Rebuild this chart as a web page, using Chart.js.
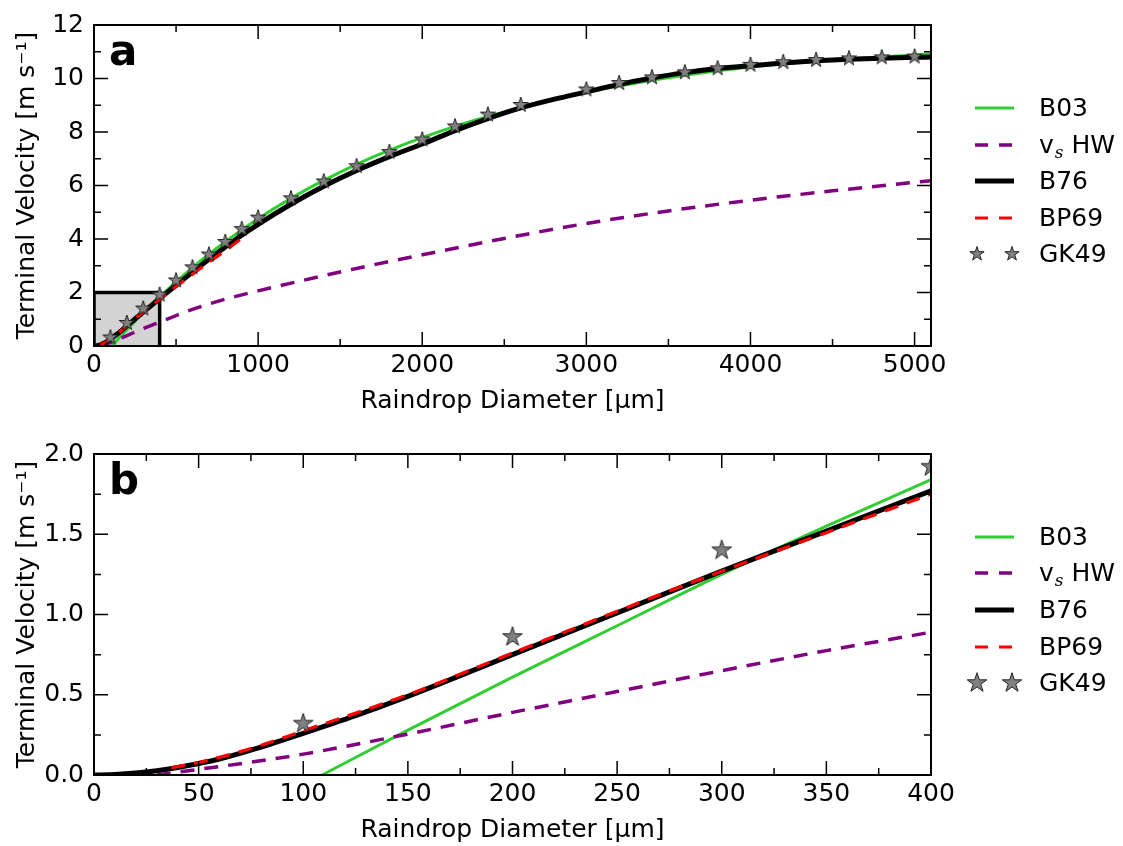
<!DOCTYPE html>
<html>
<head>
<meta charset="utf-8">
<title>Raindrop terminal velocity</title>
<script src="https://cdn.jsdelivr.net/npm/chart.js@4.4.1/dist/chart.umd.min.js"></script>
<style>
  html, body { margin: 0; padding: 0; background: #fff; }
  body { position: relative; width: 1123px; height: 846px; overflow: hidden; font-family: 'DejaVu Sans', sans-serif; }
  canvas.panel { position: absolute; left: 0; }
  #chartA { top: 0; }
  #chartB { top: 429px; }
  .leg-row { position: absolute; left: 963px; width: 160px; height: 28px; }
  .leg-row canvas { position: absolute; left: 0; top: 0; }
  .leg-text { position: absolute; left: 76px; top: -1px; font-size: 25px; line-height: 29px; white-space: nowrap; color: #000; }
  .leg-sub { font-style: italic; font-family: 'DejaVu Serif', serif; font-size: 17px; position: relative; top: 5px; margin-left: 1px; }
</style>
</head>
<body>
<canvas id="chartA" class="panel" width="1123" height="423"></canvas>
<canvas id="chartB" class="panel" width="1123" height="423"></canvas>
<div id="legends"></div>
<script>
// ---- data (diameter in µm, velocity in m/s) ----

// B03
const b03D = [109, 150, 200, 250, 300, 350, 400, 500, 600, 700, 800, 900, 1000, 1200, 1400, 1600, 1800, 2000, 2200, 2400, 2600, 2800, 3000, 3300, 3600, 4000, 4500, 5000, 5100];
const b03V = [0, 0.28, 0.61, 0.93, 1.25, 1.55, 1.84, 2.4, 2.93, 3.43, 3.9, 4.34, 4.76, 5.52, 6.19, 6.79, 7.32, 7.79, 8.21, 8.58, 8.91, 9.21, 9.48, 9.83, 10.12, 10.43, 10.69, 10.88, 10.92];

// v_s HW
const hwD = [30, 50, 75, 100, 150, 200, 250, 300, 350, 400, 500, 600, 700, 800, 900, 1000, 1200, 1400, 1600, 1800, 2000, 2500, 3000, 3500, 4000, 4500, 5000, 5100];
const hwV = [0, 0.035, 0.08, 0.13, 0.255, 0.39, 0.52, 0.65, 0.775, 0.89, 1.14, 1.37, 1.57, 1.75, 1.91, 2.06, 2.35, 2.63, 2.9, 3.16, 3.41, 4.02, 4.58, 5.05, 5.45, 5.8, 6.12, 6.18];

// B76
const b76D = [0, 10, 20, 30, 40, 50, 60, 75, 100, 125, 150, 200, 250, 300, 350, 400, 500, 600, 700, 800, 900, 1000, 1200, 1400, 1600, 1800, 2000, 2200, 2400, 2600, 2800, 3000, 3200, 3400, 3600, 3800, 4000, 4200, 4400, 4600, 4800, 5000, 5100];
const b76V = [0, 0.003, 0.012, 0.027, 0.047, 0.072, 0.1, 0.155, 0.26, 0.37, 0.49, 0.75, 1.01, 1.27, 1.52, 1.77, 2.27, 2.76, 3.24, 3.7, 4.14, 4.55, 5.3, 5.97, 6.56, 7.08, 7.55, 8.05, 8.5, 8.9, 9.22, 9.5, 9.78, 10.02, 10.22, 10.37, 10.48, 10.58, 10.66, 10.72, 10.76, 10.79, 10.8];

// BP69
const bp69D = [37, 50, 75, 100, 150, 200, 250, 300, 350, 400, 500, 600, 700, 800, 900, 932];
const bp69V = [0.045, 0.078, 0.165, 0.275, 0.5, 0.76, 1.02, 1.27, 1.51, 1.75, 2.22, 2.68, 3.13, 3.57, 4.02, 4.15];

// GK49 measurements
const gk49D = [100, 200, 300, 400, 500, 600, 700, 800, 900, 1000, 1200, 1400, 1600, 1800, 2000, 2200, 2400, 2600, 3000, 3200, 3400, 3600, 3800, 4000, 4200, 4400, 4600, 4800, 5000];
const gk49V = [0.32, 0.86, 1.4, 1.92, 2.45, 2.94, 3.42, 3.89, 4.37, 4.8, 5.52, 6.15, 6.72, 7.25, 7.72, 8.21, 8.65, 9.01, 9.59, 9.83, 10.04, 10.23, 10.38, 10.51, 10.61, 10.69, 10.75, 10.79, 10.82];

// zoom box shown in panel a (= range of panel b)
const boxD = [0, 0, 400, 400];
const boxV = [0, 2, 2, 0];

// ticks
const xTicksA = [0, 1000, 2000, 3000, 4000, 5000];
const xMinorA = [500, 1500, 2500, 3500, 4500];
const yTicksA = [0, 2, 4, 6, 8, 10, 12];
const yMinorA = [1, 3, 5, 7, 9, 11];
const xTicksB = [0, 50, 100, 150, 200, 250, 300, 350, 400];
const xMinorB = [25, 75, 125, 175, 225, 275, 325, 375];
const yTicksB = [0, 0.5, 1, 1.5, 2];
const yMinorB = [0.25, 0.75, 1.25, 1.75];

const legendLabels = ['B03', 'v<span class="leg-sub">s</span> HW', 'B76', 'BP69', 'GK49'];

// ---- styling ----
const FONT = "'DejaVu Sans', sans-serif";
const FS = 25;
const GREEN = '#32cd32';
const PURPLE = '#800080';
const RED = '#ff0000';
const BLACK = '#000000';
const STAR_FILL = '#808080';

Chart.defaults.font.family = FONT;
Chart.defaults.color = '#000';

function pts(xs, ys) {
    return xs.map((x, i) => ({ x: x, y: ys[i] }));
}

function drawStar(g, cx, cy, R) {
    g.beginPath();
    for (let i = 0; i < 10; i++) {
        const r = i % 2 ? R * 0.382 : R;
        const ang = -Math.PI / 2 + i * Math.PI / 5;
        g.lineTo(cx + r * Math.cos(ang), cy + r * Math.sin(ang));
    }
    g.closePath();
    g.fillStyle = STAR_FILL;
    g.fill();
    g.lineWidth = 1;
    g.strokeStyle = '#222';
    g.stroke();
}

function starImage(R) {
    const s = 2 * Math.ceil(R + 2);
    const c = document.createElement('canvas');
    c.width = s;
    c.height = s;
    drawStar(c.getContext('2d'), s / 2, s / 2, R);
    return c;
}

// series styles, in legend order
const SERIES = [
    { color: GREEN, width: 3, dash: [] },
    { color: PURPLE, width: 3.5, dash: [14, 10] },
    { color: BLACK, width: 5, dash: [] },
    { color: RED, width: 3.2, dash: [14, 9] },
    { star: true }
];

// inward ticks on all four sides, frame and panel letter
const innerTicks = {
    id: 'innerTicks',
    afterDraw(chart, args, o) {
        const { ctx, chartArea: a } = chart;
        const sx = chart.scales.x, sy = chart.scales.y;
        ctx.save();
        ctx.strokeStyle = '#000';
        ctx.lineWidth = 1.5;
        ctx.beginPath();
        const vTick = (v, len) => {
            const p = sx.getPixelForValue(v);
            ctx.moveTo(p, a.bottom); ctx.lineTo(p, a.bottom - len);
            ctx.moveTo(p, a.top); ctx.lineTo(p, a.top + len);
        };
        const hTick = (v, len) => {
            const p = sy.getPixelForValue(v);
            ctx.moveTo(a.left, p); ctx.lineTo(a.left + len, p);
            ctx.moveTo(a.right, p); ctx.lineTo(a.right - len, p);
        };
        o.xMajor.forEach(v => vTick(v, 14));
        o.xMinor.forEach(v => vTick(v, 7));
        o.yMajor.forEach(v => hTick(v, 14));
        o.yMinor.forEach(v => hTick(v, 7));
        ctx.stroke();

        ctx.lineWidth = 2;
        ctx.strokeRect(a.left, a.top, a.right - a.left, a.bottom - a.top);

        ctx.font = 'bold 42px ' + FONT;
        ctx.fillStyle = '#000';
        ctx.textBaseline = 'alphabetic';
        ctx.fillText(o.letter, a.left + 15, a.top + 40);
        ctx.restore();
    }
};

function buildDatasets(starR, withBox) {
    const line = (d, v, s, order) => ({
        data: pts(d, v),
        borderColor: s.color,
        borderWidth: s.width,
        borderDash: s.dash,
        pointRadius: 0,
        fill: false,
        cubicInterpolationMode: 'monotone',
        order: order
    });
    const sets = [
        line(b03D, b03V, SERIES[0], 5),
        line(hwD, hwV, SERIES[1], 4),
        line(b76D, b76V, SERIES[2], 3),
        line(bp69D, bp69V, SERIES[3], 2),
        {
            data: pts(gk49D, gk49V),
            showLine: false,
            pointStyle: starImage(starR),
            pointRadius: starR,
            order: 1
        }
    ];
    if (withBox) {
        sets.push({
            data: pts(boxD, boxV),
            borderColor: '#000',
            borderWidth: 3.5,
            backgroundColor: '#d3d3d3',
            fill: 'origin',
            pointRadius: 0,
            tension: 0,
            order: 6
        });
    }
    return sets;
}

function makePanel(canvasId, p) {
    return new Chart(document.getElementById(canvasId), {
        type: 'line',
        data: { datasets: p.datasets },
        options: {
            responsive: false,
            animation: false,
            events: [],
            layout: { padding: { left: 0, top: 19, right: 192, bottom: 0 } },
            plugins: {
                legend: { display: false },
                tooltip: { enabled: false },
                innerTicks: {
                    xMajor: p.xTicks, xMinor: p.xMinor,
                    yMajor: p.yTicks, yMinor: p.yMinor,
                    letter: p.letter
                }
            },
            scales: {
                x: {
                    type: 'linear',
                    min: 0,
                    max: p.xMax,
                    grid: { display: false, drawTicks: false },
                    border: { display: false },
                    afterBuildTicks: s => { s.ticks = p.xTicks.map(v => ({ value: v })); },
                    afterFit: s => { s.height = 77; },
                    ticks: { font: { size: FS }, padding: 4, maxRotation: 0, autoSkip: false, callback: v => String(v) },
                    title: { display: true, text: 'Raindrop Diameter [μm]', font: { size: FS }, padding: { top: 0, bottom: 7 } }
                },
                y: {
                    type: 'linear',
                    min: 0,
                    max: p.yMax,
                    grid: { display: false, drawTicks: false },
                    border: { display: false },
                    afterBuildTicks: s => { s.ticks = p.yTicks.map(v => ({ value: v })); },
                    afterFit: s => { s.width = 94; },
                    ticks: { font: { size: FS }, padding: 10, autoSkip: false, callback: p.yFmt },
                    title: { display: true, text: 'Terminal Velocity [m s⁻¹]', font: { size: FS }, padding: { top: 12, bottom: 0 } }
                }
            }
        },
        plugins: [innerTicks]
    });
}

function makeLegend(firstY, spacing, starR) {
    const host = document.getElementById('legends');
    legendLabels.forEach((label, i) => {
        const y = firstY + i * spacing;
        const row = document.createElement('div');
        row.className = 'leg-row';
        row.style.top = (y - 14) + 'px';
        const c = document.createElement('canvas');
        c.width = 64;
        c.height = 28;
        const g = c.getContext('2d');
        const s = SERIES[i];
        if (s.star) {
            drawStar(g, 14, 14, starR);
            drawStar(g, 49, 14, starR);
        } else {
            g.strokeStyle = s.color;
            g.lineWidth = s.width;
            g.setLineDash([13, 11]);
            if (!s.dash.length) g.setLineDash([]);
            g.beginPath();
            g.moveTo(12, 14);
            g.lineTo(51, 14);
            g.stroke();
        }
        row.appendChild(c);
        const t = document.createElement('span');
        t.className = 'leg-text';
        t.innerHTML = label;
        row.appendChild(t);
        host.appendChild(row);
    });
}

makePanel('chartA', {
    datasets: buildDatasets(8, true),
    xMax: 5100, yMax: 12,
    xTicks: xTicksA, xMinor: xMinorA, yTicks: yTicksA, yMinor: yMinorA,
    yFmt: v => String(v),
    letter: 'a'
});

makePanel('chartB', {
    datasets: buildDatasets(10.3, false),
    xMax: 400, yMax: 2,
    xTicks: xTicksB, xMinor: xMinorB, yTicks: yTicksB, yMinor: yMinorB,
    yFmt: v => v.toFixed(1),
    letter: 'b'
});

makeLegend(108.3, 36.4, 7.5);
makeLegend(536.7, 36.6, 10.3);
</script>
</body>
</html>
